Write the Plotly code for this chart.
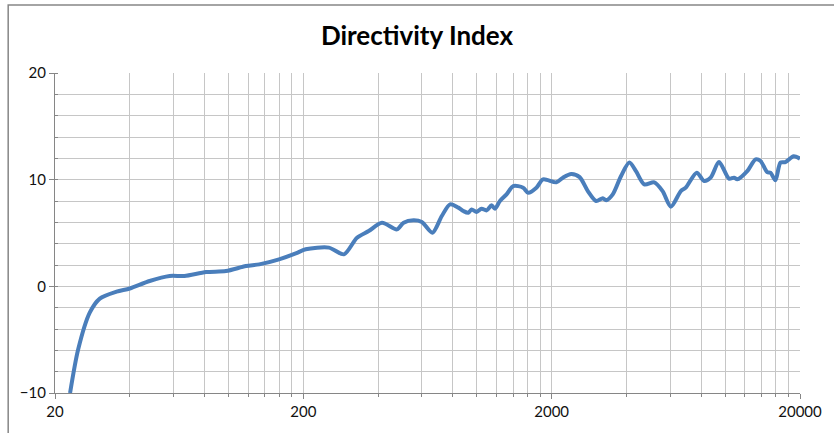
import plotly.graph_objects as go

# Data
freq_hz = [23.0, 24.8, 27.6, 30.3, 35.4, 40, 48.1, 57.9, 66.4, 81.2, 97.6, 117.5, 132.9,
           159.7, 186.4, 204.4, 253.6, 291.2, 329, 366.7, 414.8, 476.4, 506.8, 555.9, 600,
           662, 722, 780, 842, 882, 923, 952, 997, 1044, 1094, 1146, 1182, 1238, 1316, 1400,
           1535, 1608, 1736, 1847, 2088, 2221, 2398, 2592, 2797, 3021, 3212, 3313, 3524,
           3806, 4112, 4370, 4721, 5180, 5594, 6040, 6624, 6935, 7678, 8222, 8733, 9441,
           10352, 10844, 11180, 12263, 13245, 13868, 14750, 15205, 15922, 16681, 17460,
           18862, 20000]
di_db = [-10.0, -5.9, -2.47, -1.15, -0.5, -0.2, 0.5, 0.97, 0.97, 1.34, 1.43, 1.9, 2.06,
         2.53, 3.09, 3.47, 3.63, 3.0, 4.56, 5.18, 5.97, 5.34, 5.97, 6.19, 6.03,
         5.03, 6.59, 7.69, 7.38, 7.06, 6.9, 7.2, 6.97, 7.28, 7.12, 7.59, 7.28, 8.0, 8.62, 9.4,
         9.25, 8.78, 9.25, 10.03, 9.75, 10.19, 10.53, 10.24, 8.93, 8.0, 8.25, 8.06, 8.62,
         10.34, 11.6, 10.8, 9.56, 9.75, 8.93, 7.47, 8.93, 9.25, 10.66, 9.87, 10.19, 11.65,
         10.1, 10.19, 10.03, 10.8, 11.9, 11.75, 10.71, 10.66, 9.94, 11.6, 11.65,
         12.2, 11.97]

x_major = [20, 200, 2000, 20000]
x_major_labels = ["20", "200", "2000", "20000"]
x_minor = [b * k for b in (20, 200, 2000) for k in range(2, 10)]
y_major = [-10, 0, 10, 20]

grid_col = "#C6C6C6"
axis_col = "#868686"

fig = go.Figure()
fig.add_trace(go.Scatter(
    x=freq_hz, y=di_db, mode="lines",
    line=dict(color="#4A7EBB", width=4, shape="spline", smoothing=0.8),
    showlegend=False, hoverinfo="skip",
))

fig.update_layout(
    width=834, height=433,
    margin=dict(l=55, r=31, t=73, b=40),
    paper_bgcolor="white", plot_bgcolor="white",
    title=dict(text="<b>Directivity Index</b>", x=0.5, xanchor="center",
               y=1 - 36 / 433, yanchor="middle",
               font=dict(family="Lato", size=26, color="#000000")),
    font=dict(family="Lato", size=15, color="#111111"),
    xaxis=dict(
        type="log", range=[1.30103, 4.30103],
        tickmode="array", tickvals=x_major, ticktext=x_major_labels,
        showgrid=True, gridcolor=grid_col, gridwidth=1,
        showline=True, linecolor=axis_col, linewidth=1.2,
        ticks="outside", ticklen=5, tickcolor=axis_col,
        minor=dict(tickmode="array", tickvals=x_minor, showgrid=True,
                   gridcolor=grid_col, gridwidth=1,
                   ticks="outside", ticklen=3, tickcolor=axis_col),
        zeroline=False, fixedrange=True,
    ),
    yaxis=dict(
        range=[-10, 20],
        tickmode="array", tickvals=y_major,
        showgrid=True, gridcolor=grid_col, gridwidth=1,
        showline=True, linecolor=axis_col, linewidth=1.2,
        ticks="outside", ticklen=5, tickcolor=axis_col,
        minor=dict(dtick=2, showgrid=True, gridcolor=grid_col, gridwidth=1,
                   ticks="inside", ticklen=3, tickcolor=axis_col),
        zeroline=False, fixedrange=True,
    ),
    shapes=[dict(type="rect", xref="paper", yref="paper",
                 x0=(8 - 55) / 748, x1=1.2, y0=-0.3, y1=(393 - 5) / 320,
                 line=dict(color=axis_col, width=1.5), fillcolor="rgba(0,0,0,0)",
                 layer="below")],
)

fig.write_html("out.html",
               config={"displayModeBar": False},
               post_script="document.body.style.margin='0';document.body.style.padding='0';")
